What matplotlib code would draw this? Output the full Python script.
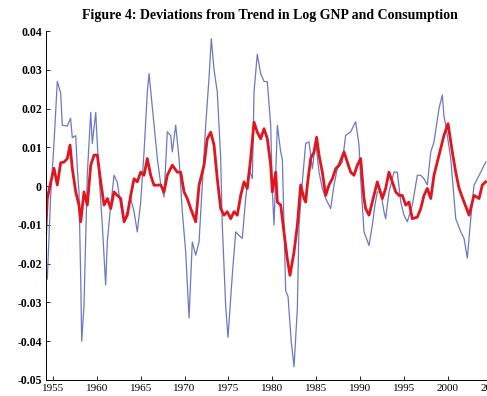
import matplotlib
matplotlib.use("Agg")
import matplotlib.pyplot as plt

# GNP deviations from trend
gnp_year = [1954.09, 1954.35, 1954.74, 1955.11, 1955.49, 1955.87, 1956.06, 1956.63, 1957.0, 1957.2,
            1957.59, 1957.77, 1957.96, 1958.16, 1958.27, 1958.53, 1958.72, 1958.91, 1959.3, 1959.48,
            1959.87, 1960.05, 1960.25, 1960.62, 1961.0, 1961.2, 1961.58, 1961.96, 1962.33, 1962.72,
            1963.1, 1963.47, 1963.86, 1964.24, 1964.61, 1965.0, 1965.38, 1965.75, 1965.95, 1966.52,
            1966.9, 1967.28, 1967.66, 1968.03, 1968.42, 1968.6, 1968.99, 1969.37, 1969.74, 1970.13,
            1970.51, 1970.88, 1971.27, 1971.65, 1972.02, 1972.41, 1972.79, 1973.05, 1973.36, 1973.73,
            1974.12, 1974.3, 1974.69, 1974.95, 1975.44, 1975.83, 1976.21, 1976.58, 1976.97, 1977.35,
            1977.73, 1977.92, 1978.29, 1978.68, 1979.06, 1979.44, 1979.82, 1980.01, 1980.2, 1980.58,
            1980.96, 1981.15, 1981.34, 1981.53, 1981.8, 1982.16, 1982.48, 1982.86, 1983.05, 1983.43,
            1983.81, 1984.19, 1984.57, 1984.95, 1985.33, 1985.71, 1986.09, 1986.66, 1987.04, 1987.42,
            1987.99, 1988.37, 1988.94, 1989.51, 1989.89, 1990.08, 1990.46, 1991.03, 1991.41, 1991.7,
            1991.98, 1992.37, 1992.74, 1992.93, 1993.31, 1993.88, 1994.26, 1994.65, 1995.02, 1995.4,
            1995.97, 1996.54, 1996.93, 1997.3, 1997.68, 1998.07, 1998.44, 1999.01, 1999.39, 1999.58,
            1999.78, 2000.35, 2000.92, 2001.49, 2001.87, 2002.24, 2002.63, 2003.0, 2003.77, 2004.34]
gnp_dev = [-0.019, -0.024, -0.002, 0.011, 0.027, 0.024, 0.0157, 0.0155, 0.0175, 0.0125,
           0.013, 0.0046, -0.0015, -0.024, -0.040, -0.031, -0.0145, 0.003, 0.019, 0.011,
           0.019, 0.011, 0.0028, -0.010, -0.0255, -0.014, -0.005, 0.0028, 0.001, -0.005,
           -0.009, -0.0066, -0.0032, -0.0066, -0.0118, -0.004, 0.0088, 0.0243, 0.029, 0.0157,
           0.007, 0.0005, -0.0028, 0.014, 0.013, 0.0088, 0.0157, 0.0071, -0.0066, -0.017,
           -0.034, -0.0144, -0.0178, -0.0144, 0.0003, 0.0157, 0.028, 0.038, 0.030, 0.0243,
           0.0071, -0.0101, -0.031, -0.039, -0.023, -0.0118, -0.0127, -0.0135, -0.0032, 0.0045,
           0.0019, 0.0243, 0.034, 0.029, 0.027, 0.0269, 0.0157, -0.0015, -0.010, 0.0157,
           0.0088, 0.007, -0.010, -0.027, -0.0285, -0.040, -0.0466, -0.0315, -0.0101, 0.0011,
           0.011, 0.0114, 0.0045, 0.0114, 0.0036, -0.0006, -0.0032, -0.0058, 0.0003, 0.0045,
           0.0062, 0.0131, 0.014, 0.0166, 0.0106, 0.0019, -0.0118, -0.0153, -0.0101, -0.005,
           -0.0015, -0.0015, -0.0066, -0.0084, -0.0015, 0.0036, 0.0036, -0.0041, -0.0075, -0.0092,
           -0.0049, 0.0028, 0.0028, 0.0019, 0.0003, 0.0088, 0.0114, 0.020, 0.0235, 0.018,
           0.0157, 0.0071, -0.0084, -0.0118, -0.0135, -0.0186, -0.0084, 0.0002, 0.0036, 0.0062]

# Consumption deviations from trend
cons_year = [1954.17, 1954.35, 1954.74, 1955.11, 1955.49, 1955.87, 1956.25, 1956.63, 1956.94, 1957.2,
             1957.59, 1957.96, 1958.16, 1958.53, 1958.91, 1959.3, 1959.68, 1960.05, 1960.44, 1960.82,
             1961.2, 1961.58, 1961.96, 1962.33, 1962.72, 1963.1, 1963.47, 1963.86, 1964.24, 1964.61,
             1965.0, 1965.38, 1965.75, 1966.14, 1966.52, 1967.28, 1967.66, 1968.03, 1968.6, 1969.17,
             1969.56, 1969.94, 1970.31, 1970.7, 1971.27, 1971.65, 1972.22, 1972.59, 1972.98, 1973.36,
             1973.73, 1974.12, 1974.5, 1974.87, 1975.26, 1975.64, 1976.01, 1976.4, 1976.78, 1977.15,
             1977.54, 1977.92, 1978.29, 1978.68, 1979.06, 1979.44, 1979.82, 1980.01, 1980.39, 1980.58,
             1980.96, 1981.34, 1981.71, 1982.02, 1982.48, 1982.86, 1983.24, 1983.62, 1983.81, 1984.0,
             1984.38, 1984.76, 1985.06, 1985.33, 1985.71, 1986.09, 1986.47, 1986.85, 1987.24, 1987.61,
             1988.18, 1988.56, 1988.94, 1989.32, 1989.7, 1990.08, 1990.46, 1990.65, 1991.03, 1991.41,
             1991.8, 1991.98, 1992.55, 1992.93, 1993.31, 1993.69, 1994.08, 1994.45, 1994.83, 1995.22,
             1995.59, 1995.97, 1996.54, 1996.93, 1997.3, 1997.68, 1998.07, 1998.44, 1999.01, 1999.58,
             2000.04, 2000.53, 2000.92, 2001.3, 2001.87, 2002.44, 2003.0, 2003.58, 2003.95, 2004.34]
cons_dev = [-0.012, -0.0032, 0.001, 0.0046, 0.0003, 0.006, 0.0062, 0.0071, 0.0106, 0.0045,
            -0.0015, -0.0049, -0.0092, -0.0015, -0.0049, 0.0054, 0.008, 0.008, 0.0011, -0.0049,
            -0.0032, -0.0058, -0.0015, -0.0024, -0.0032, -0.0092, -0.0075, -0.0024, 0.0019, 0.0011,
            0.0036, 0.0028, 0.0071, 0.0028, 0.0002, 0.0003, -0.0015, 0.0028, 0.0054, 0.0036,
            0.0036, -0.0015, -0.0032, -0.0058, -0.0092, 0.0002, 0.0054, 0.0122, 0.0139, 0.0106,
            0.0019, -0.0058, -0.0075, -0.0066, -0.0084, -0.0066, -0.0075, -0.0024, 0.0011, -0.0006,
            0.0071, 0.0165, 0.0139, 0.0122, 0.0148, 0.0122, 0.0054, -0.0015, 0.0036, -0.0041,
            -0.0049, -0.0118, -0.0187, -0.023, -0.017, -0.0101, 0.0003, -0.0032, -0.0041, 0.0003,
            0.0071, 0.0088, 0.0126, 0.008, 0.0036, -0.0024, 0.0003, 0.0019, 0.0045, 0.0054,
            0.0088, 0.0062, 0.0036, 0.0028, 0.0054, 0.0071, -0.0032, -0.0058, -0.0075, -0.0041,
            -0.0006, 0.0011, -0.0032, -0.0006, 0.0036, 0.0011, -0.0015, -0.0024, -0.0024, -0.0049,
            -0.0041, -0.0084, -0.008, -0.0058, -0.0024, -0.0006, -0.0032, 0.0028, 0.008, 0.0131,
            0.0161, 0.0088, 0.0036, -0.0006, -0.0041, -0.0075, -0.0024, -0.0032, 0.0003, 0.0011]

x_ticks = [1955, 1960, 1965, 1970, 1975, 1980, 1985, 1990, 1995, 2000, 2005]
y_ticks = [-0.05, -0.04, -0.03, -0.02, -0.01, 0, 0.01, 0.02, 0.03, 0.04]
y_tick_labels = ['-0.05', '-0.04', '-0.03', '-0.02', '-0.01', '0', '0.01', '0.02', '0.03', '0.04']

plt.rcParams['font.family'] = ['Liberation Serif', 'DejaVu Serif']

fig = plt.figure(figsize=(4.87, 3.96), dpi=100)
# axes runs past the right edge, like the cropped original
ax = fig.add_axes([46 / 487, 1 - 380 / 396, 484 / 487, 349 / 396])

ax.plot(gnp_year, gnp_dev, color='#6b78c8', linewidth=0.9)
ax.plot(cons_year, cons_dev, color='#e3141b', linewidth=2.0)

ax.set_xlim(1954.2, 1954.2 + 484 / 8.77)
ax.set_ylim(-0.05, 0.04)
ax.set_xticks(x_ticks)
ax.set_xticklabels([str(t) for t in x_ticks], fontsize=8)
ax.set_yticks(y_ticks)
ax.set_yticklabels(y_tick_labels, fontsize=8.5, fontweight='bold')
ax.tick_params(direction='in', length=3, width=0.6, pad=3)

ax.spines['top'].set_visible(False)
ax.spines['right'].set_visible(False)
ax.spines['left'].set_linewidth(0.7)
ax.spines['bottom'].set_linewidth(0.7)

fig.text(270 / 487, 1 - 16 / 396, "Figure 4: Deviations from Trend in Log GNP and Consumption",
         ha='center', va='center', fontsize=10, fontweight='bold')

fig.savefig("out.png", dpi=100)
